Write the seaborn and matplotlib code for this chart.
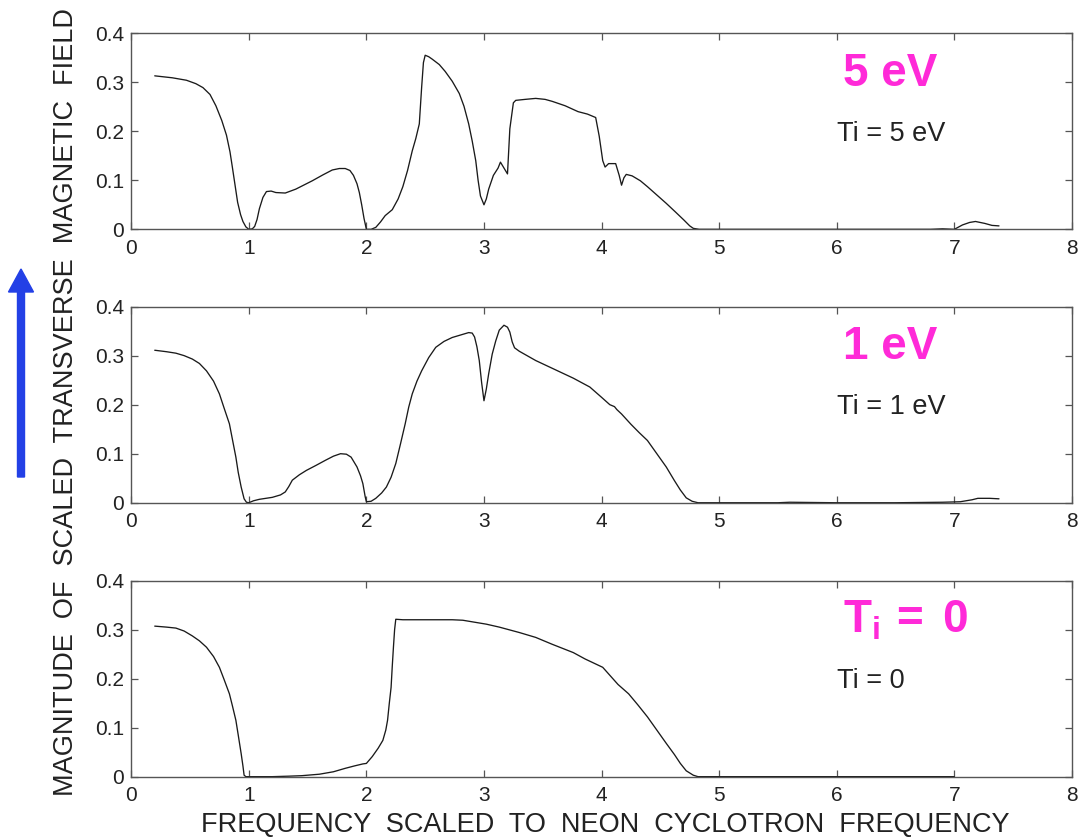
import numpy as np
import pandas as pd
import matplotlib
matplotlib.use("Agg")
import matplotlib.pyplot as plt
from matplotlib.patches import FancyArrow
import seaborn as sns

# Normalised frequency (omega / omega_ci of neon) and |B_perp| for three ion temperatures
freq_5ev = [0.20, 0.35, 0.47, 0.55, 0.61, 0.67, 0.72, 0.77, 0.81, 0.84, 0.86, 0.88, 0.905, 0.93,
            0.95, 0.975, 1.00, 1.03, 1.05, 1.07, 1.09, 1.12, 1.15, 1.19, 1.23, 1.31, 1.40, 1.54,
            1.63, 1.71, 1.77, 1.82, 1.86, 1.89, 1.92, 1.94, 1.96, 1.98, 2.00, 2.04, 2.08, 2.12,
            2.16, 2.22, 2.27, 2.31, 2.35, 2.39, 2.42, 2.45, 2.47, 2.485, 2.50, 2.53, 2.56, 2.62,
            2.67, 2.73, 2.79, 2.83, 2.87, 2.90, 2.93, 2.95, 2.97, 3.00, 3.02, 3.04, 3.08, 3.12,
            3.14, 3.17, 3.20, 3.22, 3.25, 3.27, 3.35, 3.44, 3.52, 3.58, 3.69, 3.80, 3.88, 3.95,
            3.98, 4.01, 4.03, 4.06, 4.12, 4.15, 4.17, 4.19, 4.21, 4.26, 4.33, 4.39, 4.47, 4.55,
            4.63, 4.70, 4.75, 4.78, 4.83, 5.00, 5.50, 6.00, 6.50, 6.80, 6.90, 7.00, 7.07, 7.13,
            7.18, 7.26, 7.32, 7.38]
field_5ev = [0.313, 0.309, 0.304, 0.297, 0.289, 0.275, 0.252, 0.222, 0.192, 0.158, 0.127, 0.095,
             0.055, 0.030, 0.016, 0.005, 0.000, 0.001, 0.006, 0.020, 0.042, 0.065, 0.077, 0.078,
             0.075, 0.074, 0.082, 0.099, 0.111, 0.121, 0.124, 0.124, 0.120, 0.110, 0.093, 0.075,
             0.050, 0.022, 0.000, 0.000, 0.004, 0.015, 0.028, 0.040, 0.062, 0.087, 0.120, 0.160,
             0.185, 0.215, 0.290, 0.340, 0.355, 0.352, 0.347, 0.336, 0.322, 0.302, 0.277, 0.251,
             0.215, 0.180, 0.140, 0.100, 0.068, 0.050, 0.062, 0.082, 0.110, 0.125, 0.137, 0.125,
             0.113, 0.205, 0.258, 0.263, 0.265, 0.267, 0.265, 0.261, 0.252, 0.240, 0.235, 0.228,
             0.190, 0.140, 0.127, 0.134, 0.134, 0.110, 0.090, 0.105, 0.112, 0.109, 0.099, 0.087,
             0.070, 0.053, 0.035, 0.019, 0.007, 0.002, 0.000, 0.000, 0.000, 0.000, 0.000, 0.000,
             0.001, 0.000, 0.009, 0.014, 0.016, 0.012, 0.008, 0.007]

freq_1ev = [0.20, 0.30, 0.38, 0.45, 0.52, 0.58, 0.64, 0.70, 0.75, 0.79, 0.835, 0.86, 0.89, 0.91,
            0.935, 0.96, 0.98, 1.00, 1.04, 1.09, 1.20, 1.27, 1.31, 1.34, 1.37, 1.43, 1.49, 1.57,
            1.655, 1.72, 1.78, 1.83, 1.87, 1.92, 1.95, 1.97, 1.99, 2.00, 2.04, 2.08, 2.13, 2.17,
            2.21, 2.25, 2.29, 2.33, 2.36, 2.39, 2.43, 2.47, 2.53, 2.59, 2.66, 2.73, 2.80, 2.87,
            2.90, 2.92, 2.94, 2.96, 2.98, 3.00, 3.02, 3.04, 3.07, 3.10, 3.13, 3.17, 3.20, 3.22,
            3.24, 3.26, 3.30, 3.44, 3.60, 3.76, 3.90, 4.00, 4.07, 4.11, 4.13, 4.17, 4.25, 4.32,
            4.39, 4.47, 4.55, 4.62, 4.67, 4.72, 4.77, 4.82, 5.00, 5.50, 5.60, 6.00, 6.50, 6.90,
            7.05, 7.15, 7.20, 7.30, 7.38]
field_1ev = [0.311, 0.308, 0.305, 0.300, 0.293, 0.284, 0.269, 0.248, 0.222, 0.193, 0.161, 0.130,
             0.093, 0.062, 0.032, 0.008, 0.001, 0.000, 0.004, 0.007, 0.011, 0.016, 0.022, 0.033,
             0.046, 0.057, 0.066, 0.076, 0.087, 0.095, 0.100, 0.099, 0.093, 0.073, 0.055, 0.039,
             0.012, 0.002, 0.003, 0.009, 0.020, 0.032, 0.052, 0.080, 0.120, 0.161, 0.195, 0.222,
             0.248, 0.269, 0.296, 0.317, 0.329, 0.337, 0.342, 0.347, 0.346, 0.338, 0.318, 0.290,
             0.245, 0.208, 0.232, 0.263, 0.303, 0.330, 0.352, 0.362, 0.358, 0.348, 0.328, 0.316,
             0.309, 0.290, 0.272, 0.254, 0.236, 0.215, 0.200, 0.196, 0.190, 0.181, 0.160, 0.143,
             0.127, 0.100, 0.073, 0.045, 0.026, 0.010, 0.003, 0.000, 0.000, 0.000, 0.001, 0.000,
             0.000, 0.001, 0.002, 0.006, 0.009, 0.009, 0.008]

freq_0ev = [0.20, 0.30, 0.38, 0.45, 0.52, 0.58, 0.64, 0.70, 0.75, 0.79, 0.835, 0.86, 0.89, 0.91,
            0.935, 0.95, 0.96, 0.975, 1.10, 1.20, 1.34, 1.45, 1.60, 1.72, 1.82, 1.90, 1.97, 2.00,
            2.05, 2.10, 2.14, 2.165, 2.18, 2.195, 2.21, 2.22, 2.23, 2.24, 2.25, 2.31, 2.50, 2.73,
            2.82, 2.92, 3.02, 3.13, 3.30, 3.44, 3.58, 3.76, 3.86, 4.01, 4.14, 4.23, 4.31, 4.39,
            4.47, 4.55, 4.62, 4.67, 4.72, 4.78, 4.82, 5.00, 5.50, 6.00, 6.50, 7.00]
field_0ev = [0.307, 0.305, 0.303, 0.297, 0.287, 0.277, 0.264, 0.245, 0.223, 0.198, 0.169, 0.145,
             0.115, 0.085, 0.047, 0.022, 0.003, 0.000, 0.000, 0.000, 0.001, 0.002, 0.005, 0.010,
             0.017, 0.022, 0.026, 0.027, 0.041, 0.058, 0.074, 0.095, 0.115, 0.150, 0.182, 0.225,
             0.264, 0.300, 0.321, 0.320, 0.320, 0.320, 0.319, 0.315, 0.311, 0.305, 0.294, 0.284,
             0.270, 0.253, 0.240, 0.223, 0.188, 0.169, 0.146, 0.122, 0.095, 0.068, 0.045, 0.027,
             0.012, 0.003, 0.000, 0.000, 0.000, 0.000, 0.000, 0.000]

big_labels = ["5 eV", "1 eV", r"$\mathrm{T_i\,=\;0}$"]
small_labels = ["Ti = 5 eV", "Ti = 1 eV", "Ti = 0"]
x_ticks = [0, 1, 2, 3, 4, 5, 6, 7, 8]
y_ticks = [0, 0.1, 0.2, 0.3, 0.4]
y_tick_labels = ["0", "0.1", "0.2", "0.3", "0.4"]
x_title = "FREQUENCY  SCALED  TO  NEON  CYCLOTRON  FREQUENCY"
y_title = "MAGNITUDE  OF  SCALED  TRANSVERSE  MAGNETIC  FIELD"

sns.set_theme(style="ticks")
plt.rcParams["font.family"] = ["Liberation Sans", "DejaVu Sans"]
plt.rcParams["mathtext.fontset"] = "custom"
plt.rcParams["mathtext.rm"] = "Liberation Sans:bold"
plt.rcParams["mathtext.it"] = "Liberation Sans:bold"
plt.rcParams["mathtext.bf"] = "Liberation Sans:bold"

magenta = "#ff2ad8"
spine_col = "#555555"

fig = plt.figure(figsize=(10.8, 8.4), dpi=100)
left, width, height = 0.1215, 0.871, 0.2335
bottoms = [0.7270, 0.4015, 0.0754]

series = [(freq_5ev, field_5ev), (freq_1ev, field_1ev), (freq_0ev, field_0ev)]

for i, (fx, fy) in enumerate(series):
    ax = fig.add_axes([left, bottoms[i], width, height])
    df = pd.DataFrame({"freq": fx, "field": fy})
    sns.lineplot(data=df, x="freq", y="field", ax=ax, color="#1a1a1a",
                 linewidth=0.95, estimator=None)
    ax.set_xlim(0, 8)
    ax.set_ylim(0, 0.4)
    ax.set_xticks(x_ticks)
    ax.set_xticklabels([str(t) for t in x_ticks])
    ax.set_yticks(y_ticks)
    ax.set_yticklabels(y_tick_labels)
    ax.set_xlabel("")
    ax.set_ylabel("")
    ax.tick_params(axis="both", direction="in", length=5, width=0.9, color=spine_col,
                   labelsize=15, labelcolor="#222222", top=True, right=True)
    ax.tick_params(axis="x", pad=7)
    ax.tick_params(axis="y", pad=5)
    for sp in ax.spines.values():
        sp.set_visible(True)
        sp.set_color(spine_col)
        sp.set_linewidth(1.0)
    ax.text(6.05, 0.293, big_labels[i], color=magenta, fontsize=33, fontweight="bold",
            ha="left", va="baseline")
    ax.text(6.0, 0.181, small_labels[i], color="#222222", fontsize=19.5,
            ha="left", va="baseline")

fig.text(0.56, 0.018, x_title, ha="center", va="center", fontsize=19.5, color="#222222")
fig.text(0.061, 0.521, y_title, ha="center", va="center", rotation=90, fontsize=19.5,
         color="#222222")

# blue upward arrow beside the vertical title (inch coordinates)
arrow = FancyArrow(0.21, 3.63, 0.0, 2.08, width=0.07, head_width=0.25, head_length=0.23,
                   length_includes_head=True, color="#2340e6", transform=fig.dpi_scale_trans)
fig.add_artist(arrow)

fig.savefig("out.png", dpi=100)
